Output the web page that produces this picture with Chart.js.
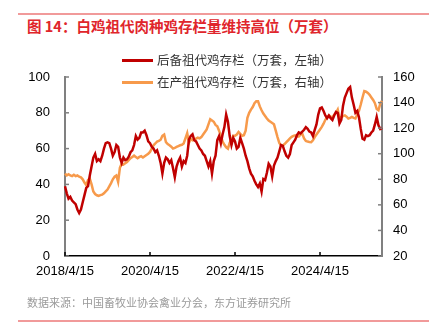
<!DOCTYPE html>
<html>
<head>
<meta charset="utf-8">
<script src="https://cdn.jsdelivr.net/npm/chart.js@4.4.1/dist/chart.umd.min.js"></script>
<style>
  body { margin: 0; background: #fff; }
  #wrap { position: relative; width: 435px; height: 327px; overflow: hidden; font-family: "Noto Sans CJK SC", "Liberation Sans", sans-serif; }
  #wrap canvas { position: absolute; left: 0; top: 0; }
  .rule { position: absolute; left: 18px; width: 411px; height: 1.5px; background: #f19a9a; }
  #title { position: absolute; left: 27px; top: 15px; font-size: 14.5px; font-weight: bold; color: #e0252b; white-space: nowrap; }
  #source { position: absolute; left: 27px; top: 294px; font-size: 11px; color: #9a9a9a; white-space: nowrap; }
  .leg { position: absolute; left: 122px; font-size: 12.5px; color: #333; white-space: nowrap; line-height: 16px; }
  .leg i { display: inline-block; width: 31px; height: 3px; vertical-align: middle; margin-right: 4px; position: relative; top: -1px; }
</style>
</head>
<body>
<div id="wrap">
  <div class="rule" style="top:13px"></div>
  <div id="title">图 14：白鸡祖代肉种鸡存栏量维持高位（万套）</div>
  <canvas id="chart" width="435" height="327"></canvas>
  <div class="leg" style="top:52px"><i style="background:#c00000"></i>后备祖代鸡存栏（万套，左轴）</div>
  <div class="leg" style="top:74px"><i style="background:#f79a4b"></i>在产祖代鸡存栏（万套，右轴）</div>
  <div id="source">数据来源：中国畜牧业协会禽业分会，东方证券研究所</div>
  <div class="rule" style="top:320px"></div>
</div>
<script>
// half-monthly readings, 2018/4/15 .. 2025/9
const reserveStock = [
  39, 35, 32, 33, 31, 30, 29, 26, 24, 26, 30, 34, 38, 39, 45, 50, 55, 57, 53, 54,
  53, 56, 60, 63, 63.5, 63, 60, 56, 58, 62, 61, 55, 52, 55, 53.5, 54, 55.5, 58, 59, 62,
  67, 65, 66, 69, 69, 70, 67.5, 64, 63, 61, 60, 58, 59, 56, 52, 46, 52, 55, 54, 52,
  53.5, 49, 44, 50, 53, 55, 50, 53, 52, 56, 65, 67, 68, 64.7, 64, 62, 60, 59, 57, 56,
  53, 50, 53, 46, 53, 56, 64.7, 67, 63, 68, 72, 79, 75, 67, 62, 66, 64, 60, 61, 66,
  63, 60, 56, 53, 49, 46, 44.5, 42, 40, 38.5, 40.5, 36, 43, 42.4, 46.5, 51.5, 50, 44.5, 50.5, 53,
  55, 58.5, 62, 61.5, 58.5, 56, 55, 57, 62, 63.5, 65, 67.5, 69, 68.5, 69.5, 70.5, 72, 71, 69.5, 69,
  67, 70.5, 73.5, 79, 82.5, 83, 81, 78.5, 77, 78.5, 77, 76, 78.5, 80.5, 80, 74, 76, 84, 88.5, 91,
  93.5, 94.4, 88.5, 84.5, 80, 81, 77.5, 71, 65.5, 65, 67.5, 67, 67.5, 69, 70, 73.5, 77.7, 73, 71, 71.6
];
const layingStock = [
  84.5, 83, 84, 83, 82.5, 83.5, 82.5, 83, 82, 81.5, 80, 77.5, 75.5, 79.5, 80.6, 76, 70.5, 68.5, 67.5, 67,
  67.6, 68, 69, 70.5, 72, 74.5, 77, 80, 82, 83, 78, 89, 92.3, 91.5, 92.5, 93.5, 95, 96.5, 97.5, 98.5,
  97.5, 96.5, 97.5, 98, 97, 98, 99, 100, 101.4, 104, 106.6, 108, 109.5, 110, 111, 114, 115, 109, 107.5, 106.6,
  105.5, 104, 104.5, 105.3, 106, 106.6, 107, 108, 112, 116, 108.5, 111.5, 110.5, 111, 111.8, 112.5, 112, 113, 115, 117,
  119, 123, 127, 126, 125, 122.5, 121.5, 118, 114, 109.5, 107, 105, 104, 108.5, 111, 114, 114, 115, 117, 115.5,
  114, 114.5, 118, 128, 132, 134.5, 136.5, 139.5, 141, 141, 137, 134, 131.4, 129.5, 127.5, 126, 125, 124, 123, 118,
  113, 108.5, 106.5, 106.5, 107.5, 109, 110.5, 112, 113.2, 114, 114.4, 113.5, 113.5, 115, 115.5, 112, 110, 109.5, 109.2, 109,
  110.5, 113, 115, 117, 119, 121, 123.5, 126.5, 128.5, 130, 129, 128.5, 130.5, 132, 134.5, 128, 128.5, 129.5, 130, 129,
  127.5, 128, 128.8, 128, 127.5, 130.5, 133.5, 138.5, 144, 149, 148.5, 147.5, 146, 144, 142, 139.5, 135, 134, 139, 141.3
];
const tickLabels = ['2018/4/15', '2020/4/15', '2022/4/15', '2024/4/15'];

// category labels: 15th and 30th of each month from 2018/4/15
const dateLabels = reserveStock.map(function (v, i) {
  const m = 3 + Math.floor(i / 2);
  const y = 2018 + Math.floor(m / 12);
  return y + '/' + (m % 12 + 1) + '/' + (i % 2 === 0 ? 15 : 30);
});

const font = 'Liberation Sans';

// short inward tick marks, as in the original
const innerTicks = {
  id: 'innerTicks',
  afterDraw: function (chart) {
    const ctx = chart.ctx;
    const a = chart.chartArea;
    const len = 4;
    ctx.save();
    ctx.lineWidth = 1.5;
    ctx.strokeStyle = '#808080';
    chart.scales.y.ticks.forEach(function (t) {
      const py = chart.scales.y.getPixelForValue(t.value);
      ctx.beginPath(); ctx.moveTo(a.left, py); ctx.lineTo(a.left + len, py); ctx.stroke();
    });
    chart.scales.y1.ticks.forEach(function (t) {
      const py = chart.scales.y1.getPixelForValue(t.value);
      ctx.beginPath(); ctx.moveTo(a.right, py); ctx.lineTo(a.right - len, py); ctx.stroke();
    });
    ctx.strokeStyle = '#000';
    tickLabels.forEach(function (l) {
      const idx = dateLabels.indexOf(l);
      if (idx < 0) return;
      const px = chart.scales.x.getPixelForValue(idx);
      ctx.beginPath(); ctx.moveTo(px, a.bottom); ctx.lineTo(px, a.bottom - len); ctx.stroke();
    });
    ctx.restore();
  }
};

const ctx = document.getElementById('chart').getContext('2d');
const stockChart = new Chart(ctx, {
  type: 'line',
  data: {
    labels: dateLabels,
    datasets: [{
      label: '后备祖代鸡存栏（万套，左轴）',
      data: reserveStock,
      yAxisID: 'y',
      borderColor: '#c00000',
      borderWidth: 2.5,
      pointRadius: 0,
      tension: 0
    }, {
      label: '在产祖代鸡存栏（万套，右轴）',
      data: layingStock,
      yAxisID: 'y1',
      borderColor: '#f79a4b',
      borderWidth: 2.5,
      pointRadius: 0,
      tension: 0
    }]
  },
  options: {
    responsive: false,
    animation: false,
    devicePixelRatio: 1,
    layout: { padding: { top: 77, bottom: 41, left: 0, right: 0 } },
    plugins: { legend: { display: false }, tooltip: { enabled: false } },
    scales: {
      x: {
        grid: { display: false, drawTicks: false },
        border: { color: '#000', width: 1.5 },
        ticks: {
          autoSkip: false, maxRotation: 0, padding: 8, color: '#000',
          font: { family: font, size: 13 },
          callback: function (v, i) {
            const l = dateLabels[i];
            return tickLabels.indexOf(l) >= 0 ? l : null;
          }
        },
        afterFit: function (s) { s.height = 30; }
      },
      y: {
        position: 'left', min: 0, max: 100,
        grid: { display: false, drawTicks: false },
        border: { color: '#808080', width: 2 },
        ticks: { stepSize: 20, padding: 15, color: '#000', font: { family: font, size: 13 } },
        afterFit: function (s) { s.width = 65; }
      },
      y1: {
        position: 'right', min: 20, max: 160,
        grid: { display: false, drawTicks: false },
        border: { color: '#808080', width: 2 },
        ticks: { stepSize: 20, padding: 11, color: '#000', font: { family: font, size: 13 } },
        afterFit: function (s) { s.width = 53; }
      }
    }
  },
  plugins: [innerTicks]
});
</script>
</body>
</html>
